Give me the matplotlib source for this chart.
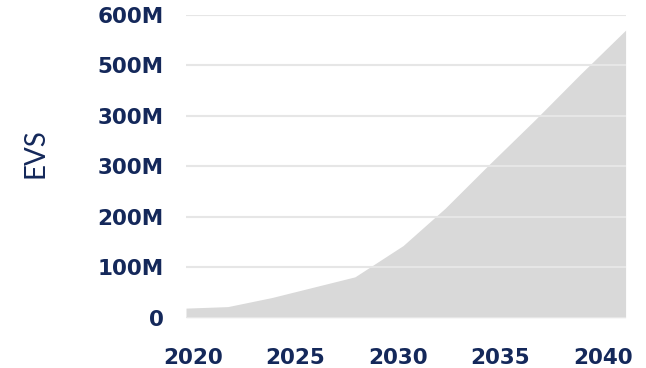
import matplotlib
matplotlib.use("Agg")
import matplotlib.pyplot as plt

years = [2019.66, 2021.7, 2023.85, 2027.9, 2030.25, 2032.3, 2034.5, 2036.7, 2038.9, 2041.1]
evs_m = [19, 22, 40, 81, 143, 217, 306, 393, 483, 570]

ytick_vals = [0, 100, 200, 300, 400, 500, 600]
ytick_labels = ["0", "100M", "200M", "300M", "300M", "500M", "600M"]
xtick_vals = [2020, 2025, 2030, 2035, 2040]

navy = "#14285a"

fig = plt.figure(figsize=(6.46, 3.68), dpi=100)
ax = fig.add_axes([186/646, 1-317.7/368, 440/646, (317.7-15)/368])
ax.fill_between(years, evs_m, 0, color="#d9d9d9", linewidth=0, zorder=1)
ax.set_xlim(2019.66, 2041.12)
ax.set_ylim(0, 600)
ax.set_yticks(ytick_vals)
ax.set_yticklabels(ytick_labels)
ax.set_xticks(xtick_vals)
ax.set_xticklabels([str(x) for x in xtick_vals])
ax.grid(axis="y", color="#e6e6e6", linewidth=1.5, zorder=2)
ax.set_axisbelow(False)
ax.tick_params(axis="both", length=0, labelsize=15.5, labelcolor=navy)
ax.tick_params(axis="y", pad=16)
ax.tick_params(axis="x", pad=22)
for lab in ax.get_xticklabels() + ax.get_yticklabels():
    lab.set_fontweight("bold")
    lab.set_fontfamily("DejaVu Sans")
for s in ax.spines.values():
    s.set_visible(False)
fig.text(35/646, 1-153/368, "EVS", rotation=90, ha="center", va="center",
         fontsize=20, color=navy, fontfamily="Lato", fontweight="normal")
fig.savefig("out.png", dpi=100)
